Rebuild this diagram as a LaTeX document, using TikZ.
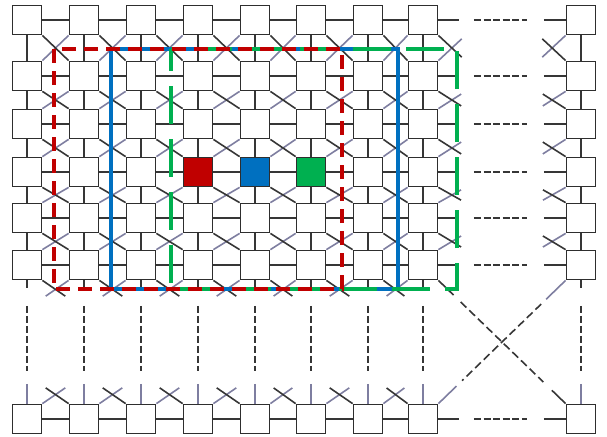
\documentclass[tikz,border=0pt]{standalone}
\usepackage{tikz}
\usetikzlibrary{calc,backgrounds}
\definecolor{boxgray}{HTML}{2E2E2E}
\definecolor{lndark}{HTML}{363636}
\definecolor{lnlav}{HTML}{7E7EA0}
\definecolor{cellred}{HTML}{C00000}
\definecolor{cellblue}{HTML}{0070C0}
\definecolor{cellgreen}{HTML}{00B050}

\begin{document}
\begin{tikzpicture}[
  x=1pt, y=-1pt,
  cell/.style={draw=boxgray, line width=1.8pt, fill=white, minimum size=29pt, inner sep=0pt},
  tint-4-4/.style={fill=cellred},
  tint-4-5/.style={fill=cellblue},
  tint-4-6/.style={fill=cellgreen},
  dk/.style={draw=lndark, line width=1.6pt},
  lav/.style={draw=lnlav, line width=1.6pt},
  vgap/.style={dk, dash pattern=on 7pt off 3pt},
  dgap/.style={dk, dash pattern=on 8pt off 4pt}
]
\useasboundingbox (0,0) rectangle (607,436);

%% ---- cells: six grid rows, then the last row (7); column 9 is the far one
\foreach \r/\y in {1/20,2/76,3/124,4/172,5/218,6/265,7/419}
  \foreach \c/\x in {1/27,2/84,3/141,4/198,5/255,6/311,7/368,8/423,9/581}
    \node[cell, tint-\r-\c/.try] (n-\r-\c) at (\x,\y) {};

\begin{scope}[on background layer]
% rows
\foreach \r in {1,...,7}
  \foreach \c [count=\d from 2] in {1,...,7}
    \draw[dk] (n-\r-\c) -- (n-\r-\d);
% columns
\foreach \r [count=\s from 2] in {1,...,5}
  \foreach \c in {1,...,9}
    \draw[dk] (n-\r-\c) -- (n-\s-\c);
% crossings inside the grid
\foreach \r [count=\s from 2] in {1,...,5}
  \foreach \c [count=\d from 2] in {1,...,7} {
    \draw[lav] (n-\r-\d.south west) -- (n-\s-\c.north east);
    \draw[dk]  (n-\r-\c.south east) -- (n-\s-\d.north west);
  }
% half crossings at the cut on the right
\foreach \r [count=\s from 2] in {1,...,5} {
  \draw[lav, shorten >=5pt] (n-\s-8.north east) -- ($(n-\r-8.south east)+(27,0)$);
  \draw[dk,  shorten >=5pt] (n-\r-8.south east) -- ($(n-\s-8.north east)+(27,0)$);
  \draw[lav, shorten >=5pt] (n-\r-9.south west) -- ($(n-\s-9.north west)+(-27,0)$);
  \draw[dk,  shorten <=5pt] ($(n-\r-9.south west)+(-27,0)$) -- (n-\s-9.north west);
}
% half crossings at the cut below
\foreach \c [count=\d from 2] in {1,...,7} {
  \draw[lav, shorten >=4pt] (n-6-\d.south west) -- ($(n-6-\c.south east)+(0,18)$);
  \draw[dk,  shorten >=4pt] (n-6-\c.south east) -- ($(n-6-\d.south west)+(0,18)$);
  \draw[lav, shorten >=4pt] (n-7-\c.north east) -- ($(n-7-\d.north west)+(0,-18)$);
  \draw[dk,  shorten <=4pt] ($(n-7-\c.north east)+(0,-18)$) -- (n-7-\d.north west);
}
% skipped columns
\foreach \r in {1,...,7} {
  \draw[dk, shorten >=107pt] (n-\r-8) -- (n-\r-9);
  \draw[dk, dash pattern=on 7pt off 2.6pt, shorten <=35.5pt, shorten >=38.5pt] (n-\r-8) -- (n-\r-9);
  \draw[dk, shorten <=105.5pt] (n-\r-8) -- (n-\r-9);
}
% skipped rows
\foreach \c in {1,...,9} {
  \draw[dk, shorten >=116pt] (n-6-\c) -- (n-7-\c);
  \draw[vgap, shorten <=25.5pt, shorten >=32.5pt] (n-6-\c) -- (n-7-\c);
  \draw[lav, shorten <=103.5pt] (n-6-\c) -- (n-7-\c);
}
% wrap-around corners
\draw[dk, shorten >=156pt] (n-6-8.south east) -- (n-7-9.north west);
\draw[dgap, shorten <=31pt, shorten >=31pt] (n-6-8.south east) -- (n-7-9.north west);
\draw[dk, shorten <=158pt] (n-6-8.south east) -- (n-7-9.north west);
\draw[lav, shorten >=150pt] (n-6-9.south west) -- (n-7-8.north east);
\draw[dgap, shorten <=34pt, shorten >=33pt] (n-6-9.south west) -- (n-7-8.north east);
\draw[lav, shorten <=152pt] (n-6-9.south west) -- (n-7-8.north east);
\end{scope}

%% ---- the three windows
\draw[cellblue, line width=3.4pt] (111,49) rectangle (398,289);
\draw[cellgreen, line width=4pt, dash pattern=on 38pt off 15pt, dash phase=16pt]
  (171,49) rectangle (457,289);
\draw[cellred, line width=4.5pt, dash pattern=on 14pt off 8pt] (54,49) rectangle (342,289);

\end{tikzpicture}
\end{document}
